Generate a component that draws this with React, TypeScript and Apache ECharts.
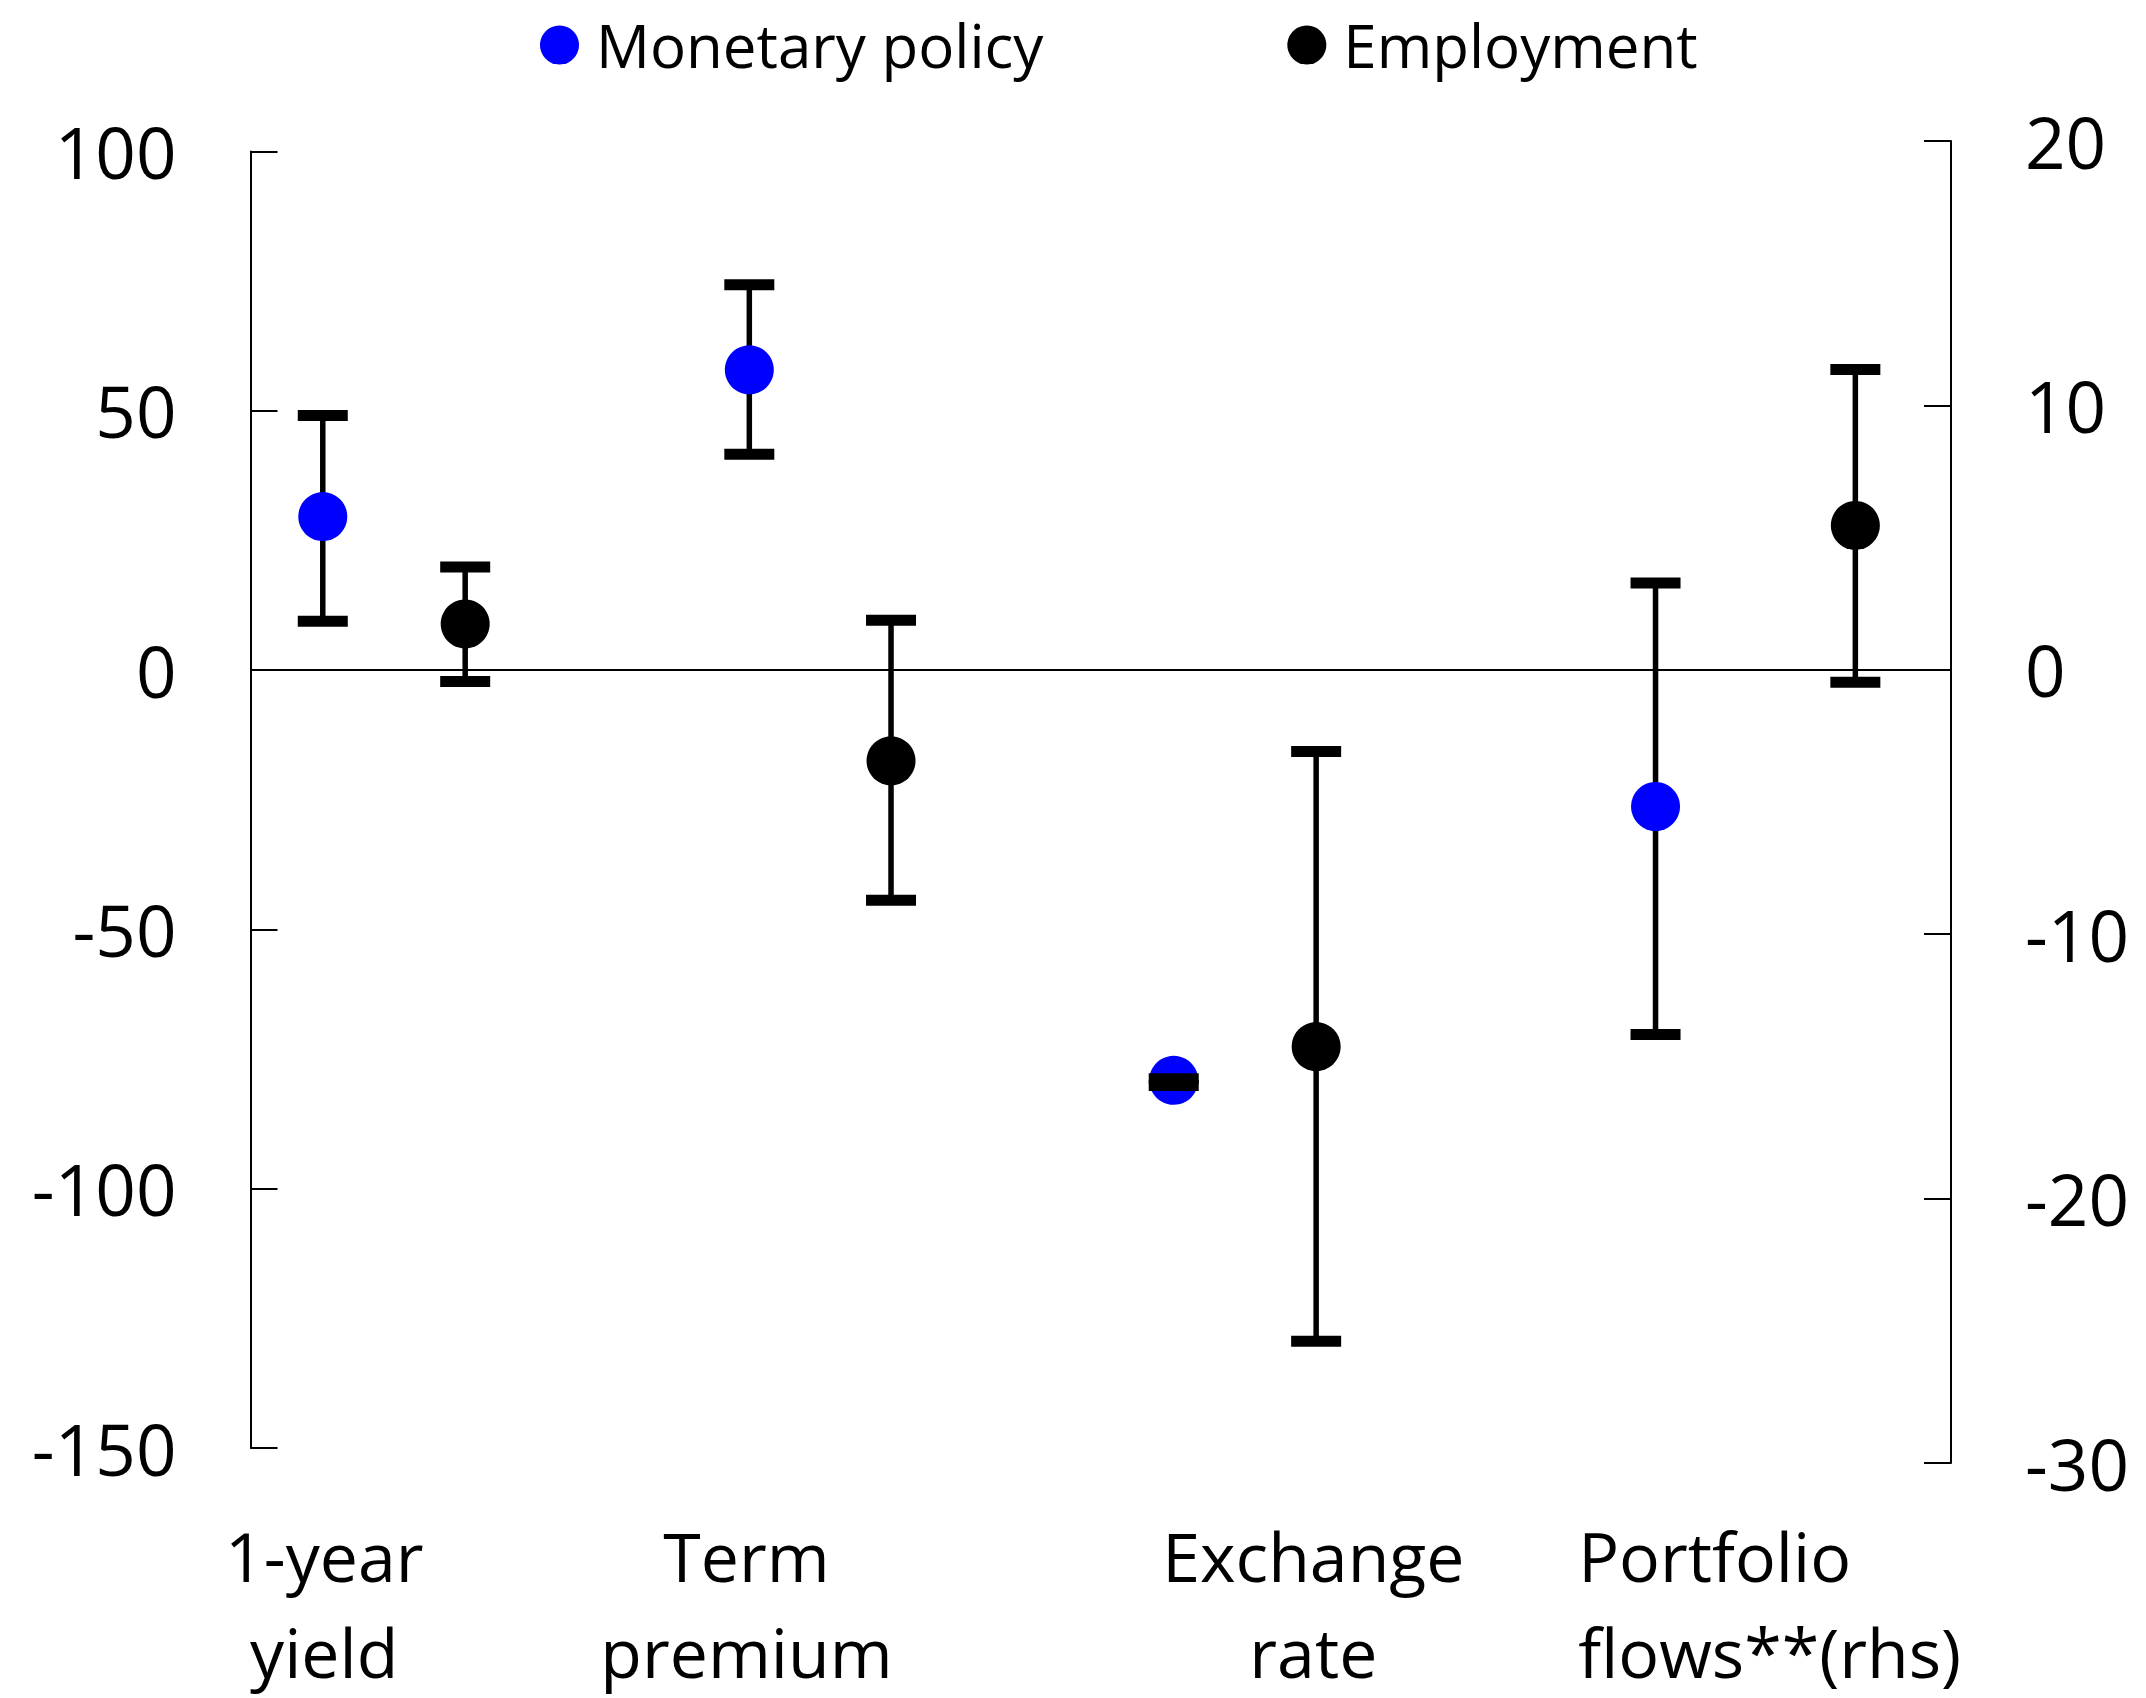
import React, { useEffect, useRef } from "react";
import * as echarts from "echarts";

// ---- data ----
const categoryLabels = ["1-year\nyield", "Term\npremium", "Exchange\nrate", "Portfolio\nflows**(rhs)"];
const categoryLabelPos = [0.52, 3.5, 7.5, 10.71];
// which axis each category uses: 0 = left (lhs), 1 = right (rhs)
const categoryAxis = [0, 0, 0, 1];

const mpPos = [0.51, 3.52, 6.515, 9.915];
const mpMean = [29.6, 57.9, -79.1, -5.17];
const mpLow = [9.4, 41.6, -80.1, -13.79];
const mpHigh = [49.1, 74.3, -78.8, 3.28];

const empPos = [1.515, 4.52, 7.52, 11.325];
const empMean = [8.9, -17.5, -72.6, 5.46];
const empLow = [-2.2, -44.4, -129.4, -0.47];
const empHigh = [19.9, 9.6, -15.7, 11.36];

const lhsTicks = { min: -150, max: 100, interval: 50 };
const rhsTicks = { min: -30, max: 20, interval: 10 };

const FONT = "'Open Sans', 'Noto Sans', sans-serif";

function pick(axis: number, pos: number[], a: number[]) {
  const out: number[][] = [];
  pos.forEach((p, i) => {
    if (categoryAxis[i] === axis) out.push([p, a[i]]);
  });
  return out;
}
function pickErr(axis: number, pos: number[], lo: number[], hi: number[]) {
  const out: number[][] = [];
  pos.forEach((p, i) => {
    if (categoryAxis[i] === axis) out.push([p, lo[i], hi[i]]);
  });
  return out;
}

const stemRender = (params: any, api: any) => {
  const x = api.value(0);
  const pLo = api.coord([x, api.value(1)]);
  const pHi = api.coord([x, api.value(2)]);
  return {
    type: "line",
    shape: { x1: pHi[0], y1: pHi[1], x2: pLo[0], y2: pLo[1] },
    style: { stroke: "#000", lineWidth: 5.5 },
  };
};
const capRender = (params: any, api: any) => {
  const x = api.value(0);
  const pLo = api.coord([x, api.value(1)]);
  const pHi = api.coord([x, api.value(2)]);
  const w = 50;
  const h = 11;
  return {
    type: "group",
    children: [
      { type: "rect", shape: { x: pHi[0] - w / 2, y: pHi[1] - h / 2, width: w, height: h }, style: { fill: "#000" } },
      { type: "rect", shape: { x: pLo[0] - w / 2, y: pLo[1] - h / 2, width: w, height: h }, style: { fill: "#000" } },
    ],
  };
};

export default function App() {
  const ref = useRef<HTMLDivElement>(null);
  useEffect(() => {
    document.body.style.margin = "0";
    if (!ref.current) return;
    const chart = echarts.init(ref.current, undefined, { renderer: "svg" });

    const gridLeft = 250.5;
    const gridWidth = 1700.5;

    const series: any[] = [];
    [0, 1].forEach((ax) => {
      series.push({
        type: "custom",
        xAxisIndex: ax,
        yAxisIndex: ax,
        z: 1,
        silent: true,
        renderItem: stemRender,
        encode: { x: 0, y: [1, 2] },
        data: pickErr(ax, mpPos, mpLow, mpHigh).concat(pickErr(ax, empPos, empLow, empHigh)),
      });
      series.push({
        type: "scatter",
        name: "Monetary policy",
        xAxisIndex: ax,
        yAxisIndex: ax,
        z: 2,
        symbol: "circle",
        symbolSize: 49,
        itemStyle: { color: "#0000FF", opacity: 1 },
        data: pick(ax, mpPos, mpMean),
        markLine:
          ax === 0
            ? {
                silent: true,
                symbol: ["none", "none"],
                label: { show: false },
                lineStyle: { color: "#000", width: 2, type: "solid" },
                data: [{ yAxis: 0 }],
              }
            : undefined,
      });
      series.push({
        type: "scatter",
        name: "Employment",
        xAxisIndex: ax,
        yAxisIndex: ax,
        z: 2,
        symbol: "circle",
        symbolSize: 49,
        itemStyle: { color: "#000000", opacity: 1 },
        data: pick(ax, empPos, empMean),
      });
      series.push({
        type: "custom",
        xAxisIndex: ax,
        yAxisIndex: ax,
        z: 3,
        silent: true,
        renderItem: capRender,
        encode: { x: 0, y: [1, 2] },
        data: pickErr(ax, mpPos, mpLow, mpHigh).concat(pickErr(ax, empPos, empLow, empHigh)),
      });
    });

    const option: any = {
      animation: false,
      backgroundColor: "#ffffff",
      textStyle: { fontFamily: FONT },
      legend: {
        data: ["Monetary policy", "Employment"],
        left: 535,
        top: 10,
        icon: "circle",
        itemWidth: 39,
        itemHeight: 39,
        itemGap: 244,
        selectedMode: false,
        textStyle: { fontSize: 60, fontFamily: FONT, color: "#000", padding: [6, 0, 0, 12] },
      },
      grid: [
        { left: gridLeft, width: gridWidth, top: 151.5, height: 1296.5, containLabel: false, outerBoundsMode: "none" },
        { left: gridLeft, width: gridWidth, top: 141, height: 1322, containLabel: false, outerBoundsMode: "none" },
      ],
      xAxis: [
        {
          type: "value",
          gridIndex: 0,
          min: 0,
          max: 12,
          axisLine: { show: false },
          axisTick: { show: false },
          splitLine: { show: false },
          axisLabel: {
            show: true,
            customValues: categoryLabelPos,
            margin: 59,
            fontSize: 68,
            lineHeight: 96,
            fontFamily: FONT,
            color: "#000",
            align: "center",
            verticalAlign: "top",
            formatter: (v: number) => {
              const i = categoryLabelPos.findIndex((p) => Math.abs(p - v) < 1e-6);
              if (i < 0) return "";
              const t = categoryLabels[i];
              if (i === categoryLabels.length - 1) {
                return t
                  .split("\n")
                  .map((s) => "{l|" + s + "}")
                  .join("\n");
              }
              return t;
            },
            rich: {
              l: { width: 380, align: "left", fontSize: 68, lineHeight: 96, fontFamily: FONT, color: "#000" },
            },
          },
        },
        {
          type: "value",
          gridIndex: 1,
          min: 0,
          max: 12,
          show: false,
        },
      ],
      yAxis: [
        {
          type: "value",
          gridIndex: 0,
          position: "left",
          min: lhsTicks.min,
          max: lhsTicks.max,
          interval: lhsTicks.interval,
          axisLine: { show: true, onZero: false, lineStyle: { color: "#000", width: 2 } },
          axisTick: { show: true, inside: true, length: 27, lineStyle: { color: "#000", width: 2 } },
          splitLine: { show: false },
          axisLabel: { margin: 74, fontSize: 71, fontFamily: FONT, color: "#000" },
        },
        {
          type: "value",
          gridIndex: 1,
          position: "right",
          min: rhsTicks.min,
          max: rhsTicks.max,
          interval: rhsTicks.interval,
          axisLine: { show: true, onZero: false, lineStyle: { color: "#000", width: 2 } },
          axisTick: { show: true, inside: true, length: 27, lineStyle: { color: "#000", width: 2 } },
          splitLine: { show: false },
          axisLabel: { margin: 74, fontSize: 71, fontFamily: FONT, color: "#000" },
        },
      ],
      series,
    };
    chart.setOption(option);
    return () => chart.dispose();
  }, []);
  return <div ref={ref} style={{ width: 2146, height: 1698 }} />;
}
